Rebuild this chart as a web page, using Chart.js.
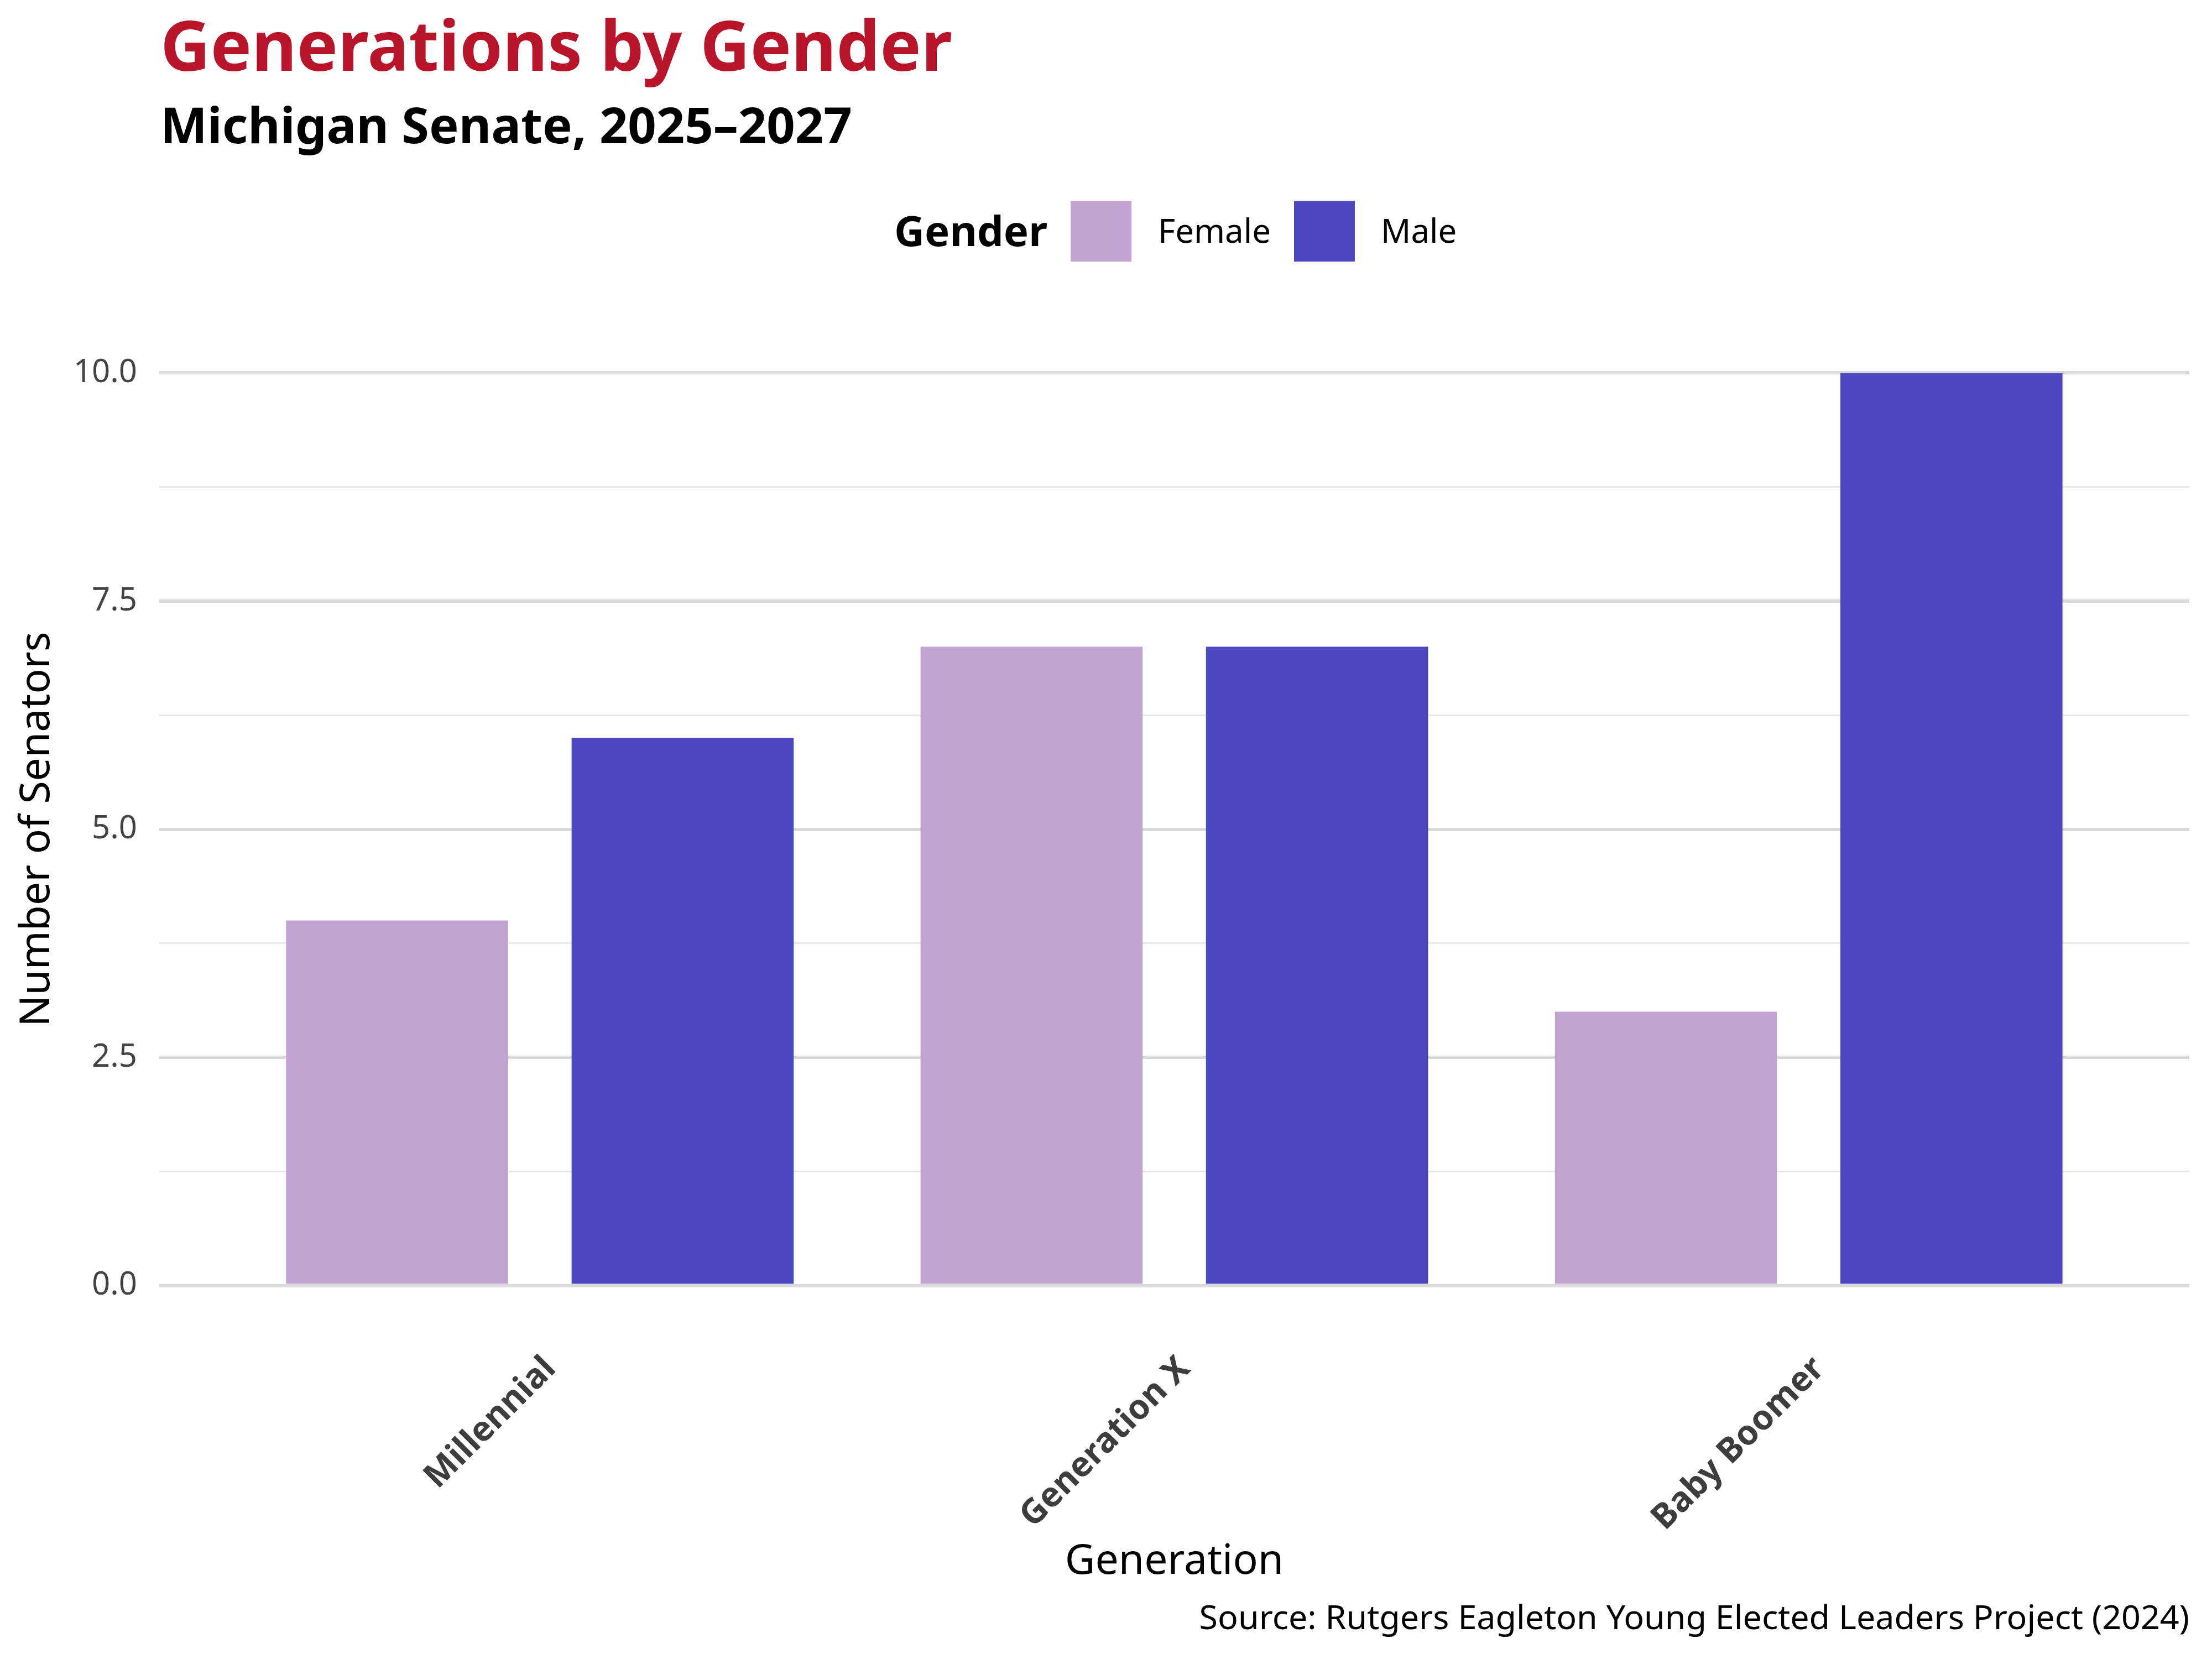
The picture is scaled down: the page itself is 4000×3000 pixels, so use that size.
<!DOCTYPE html>
<html>
<head>
<meta charset="utf-8">
<script src="https://cdn.jsdelivr.net/npm/chart.js@4.4.1/dist/chart.umd.min.js"></script>
<style>
  html, body { margin: 0; padding: 0; background: #fff; }
  #wrap { width: 4000px; height: 3000px; }
</style>
</head>
<body>
<div id="wrap"><canvas id="chart" width="4000" height="3000"></canvas></div>
<script>
// data
const generations = ["Millennial", "Generation X", "Baby Boomer"];
const femaleCounts = [4, 7, 3];
const maleCounts = [6, 7, 10];
const genders = ["Female", "Male"];
const genderColors = ["#c0a3d1", "#4b48c1"];
const yTicks = [0, 1.25, 2.5, 3.75, 5, 6.25, 7.5, 8.75, 10];

Chart.defaults.font.family = "'Noto Sans', sans-serif";

const isMajor = v => Math.abs(v / 2.5 - Math.round(v / 2.5)) < 1e-6;

// titles, legend and source caption drawn on top of the chart
const headerPlugin = {
    id: "header",
    afterDraw(chart) {
        const ctx = chart.ctx;
        ctx.save();
        ctx.textBaseline = "alphabetic";
        ctx.textAlign = "left";

        ctx.fillStyle = "#b8152a";
        ctx.font = "bold 125px 'Noto Sans'";
        ctx.fillText("Generations by Gender", 290, 128);

        ctx.fillStyle = "#000";
        ctx.font = "bold 90px 'Noto Sans'";
        ctx.fillText("Michigan Senate, 2025\u20132027", 290, 259);

        // legend
        ctx.font = "bold 76px 'Noto Sans'";
        ctx.fillText("Gender", 1617, 445);
        const boxX = [1936, 2340];
        const textX = [2094, 2497];
        ctx.font = "60px 'Noto Sans'";
        genders.forEach((g, i) => {
            ctx.fillStyle = genderColors[i];
            ctx.fillRect(boxX[i], 363, 110, 110);
            ctx.fillStyle = "#000";
            ctx.fillText(g, textX[i], 439);
        });

        // source
        ctx.textAlign = "right";
        ctx.font = "61px 'Noto Sans'";
        ctx.fillText("Source: Rutgers Eagleton Young Elected Leaders Project (2024)", 3959, 2946);
        ctx.restore();
    }
};

new Chart(document.getElementById("chart").getContext("2d"), {
    type: "bar",
    data: {
        datasets: [
            {
                label: genders[0],
                data: generations.map((g, i) => ({ x: i + 1, y: femaleCounts[i] })),
                backgroundColor: genderColors[0],
                borderWidth: 0,
                categoryPercentage: 0.9,
                barPercentage: 0.778
            },
            {
                label: genders[1],
                data: generations.map((g, i) => ({ x: i + 1, y: maleCounts[i] })),
                backgroundColor: genderColors[1],
                borderWidth: 0,
                categoryPercentage: 0.9,
                barPercentage: 0.778
            }
        ]
    },
    options: {
        responsive: false,
        animation: false,
        devicePixelRatio: 1,
        layout: { padding: { top: 592, right: 41, bottom: 93, left: 0 } },
        plugins: {
            legend: { display: false },
            title: { display: false },
            tooltip: { enabled: false }
        },
        scales: {
            x: {
                type: "linear",
                min: 0.4,
                max: 3.6,
                offset: false,
                afterBuildTicks: axis => {
                    axis.ticks = generations.map((g, i) => ({ value: i + 1 }));
                },
                afterFit: scale => { scale.height = 500; },
                ticks: {
                    callback: v => generations[v - 1],
                    minRotation: 45,
                    maxRotation: 45,
                    autoSkip: false,
                    padding: 32,
                    labelOffset: 19,
                    color: "#3d3d3d",
                    font: { size: 62, weight: "bold" }
                },
                grid: { display: false, drawTicks: false },
                border: { display: false },
                title: {
                    display: true,
                    text: "Generation",
                    color: "#000",
                    font: { size: 75 },
                    padding: { top: 0, bottom: 37 }
                }
            },
            y: {
                min: -0.5,
                max: 10.5,
                afterBuildTicks: axis => {
                    axis.ticks = yTicks.map(v => ({ value: v }));
                },
                afterFit: scale => { scale.width = 288; },
                ticks: {
                    callback: v => (isMajor(v) ? v.toFixed(1) : ""),
                    padding: 40,
                    color: "#444",
                    font: { size: 58 }
                },
                grid: {
                    drawTicks: false,
                    color: c => (c.tick && isMajor(c.tick.value) ? "#d9d9d9" : "#e8e8e8"),
                    lineWidth: c => (c.tick && isMajor(c.tick.value) ? 6 : 3)
                },
                border: { display: false },
                title: {
                    display: true,
                    text: "Number of Senators",
                    color: "#000",
                    font: { size: 75 },
                    padding: { top: 23, bottom: 0 }
                }
            }
        }
    },
    plugins: [headerPlugin]
});
</script>
</body>
</html>
